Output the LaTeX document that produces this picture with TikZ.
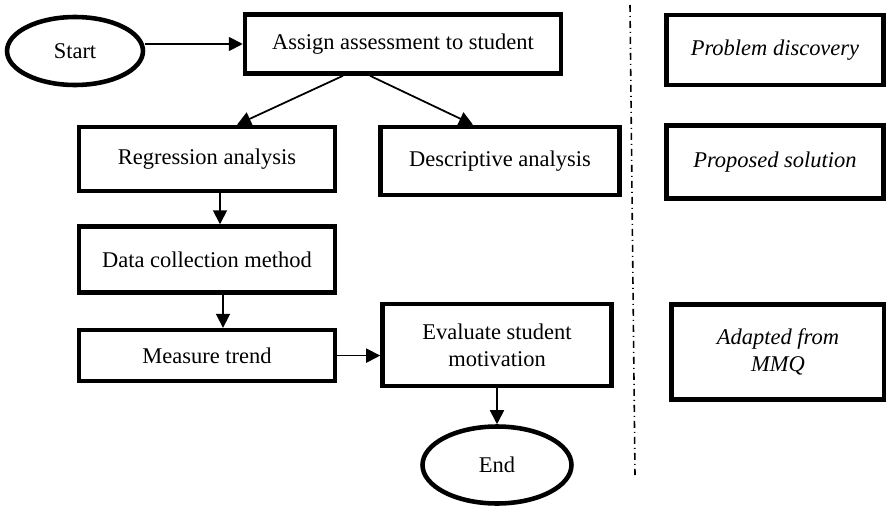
\documentclass[tikz,border=0pt]{standalone}
\usepackage{fontspec}
\setmainfont{Liberation Serif}
\usepackage{tikz}
\usetikzlibrary{arrows.meta, positioning, shapes.geometric, calc}
\tikzset{%
	term/.style={draw, ellipse, line width=2.6pt, inner sep=0mm},
	proc/.style={draw, rectangle, line width=2.6pt, inner sep=1mm, align=center},
	note/.style={proc, font=\fontsize{12.8}{15.5}\selectfont\itshape},
	sel/.style={-{Triangle[length=0.28cm, width=0.28cm]}, line width=1pt},
	sep/.style={line width=0.9pt, dash pattern=on 0.14cm off 0.08cm on 0.02cm off 0.08cm}
}

\begin{document}
\begin{tikzpicture}[x=0.02cm, y=-0.02cm, font=\fontsize{12.8}{15.5}\selectfont]
	\useasboundingbox (0,0) rectangle (886,507);

	\node[term, minimum width=2.72cm, minimum height=1.36cm] (start) at (75,51) {Start};
	\node[proc, minimum width=6.32cm, minimum height=1.18cm] (assign) at (403,44) {Assign assessment to student};
	\node[proc, minimum width=5.12cm, minimum height=1.28cm] (regr) at (207,159) {Regression analysis};
	\node[proc, minimum width=4.78cm, minimum height=1.36cm] (descr) at (500,161) {Descriptive analysis};
	\node[proc, minimum width=5.12cm, minimum height=1.32cm, below=0.62cm of regr] (data) {Data collection method};
	\node[proc, minimum width=5.12cm, minimum height=1.02cm, below=0.66cm of data] (measure) {Measure trend};
	\node[proc, minimum width=4.58cm, minimum height=1.64cm] (eval) at (497,345) {Evaluate student\\motivation};
	\node[term, minimum width=2.98cm, minimum height=1.54cm] (end) at (497,465) {End};

	\node[note, minimum width=4.34cm, minimum height=1.40cm] (prob) at (775,50) {Problem discovery};
	\node[note, minimum width=4.34cm, minimum height=1.46cm] (prop) at (775,162) {Proposed solution};
	\node[note, minimum width=4.26cm, minimum height=1.90cm] (mmq) at (778,352) {Adapted from\\MMQ};

	\coordinate (top) at (630,5);
	\coordinate (bot) at (635,475);

	\draw[sel] (assign.west -| start.east) to (assign.west);
	\draw[sel] ($(assign.south)+(-60,0)$) to ($(regr.north)+(30,0)$);
	\draw[sel] ($(assign.south)+(-33,0)$) to ($(descr.north)+(-27,0)$);
	\draw[sel] ($(regr.south)+(13,0)$) to ($(data.north)+(13,0)$);
	\draw[sel] ($(data.south)+(16,0)$) to ($(measure.north)+(16,0)$);
	\draw[sel] (measure.east) to (measure.east -| eval.west);
	\draw[sel] (eval.south) to (end.north);
	\draw[sep] (top) to (bot);
\end{tikzpicture}
\end{document}
